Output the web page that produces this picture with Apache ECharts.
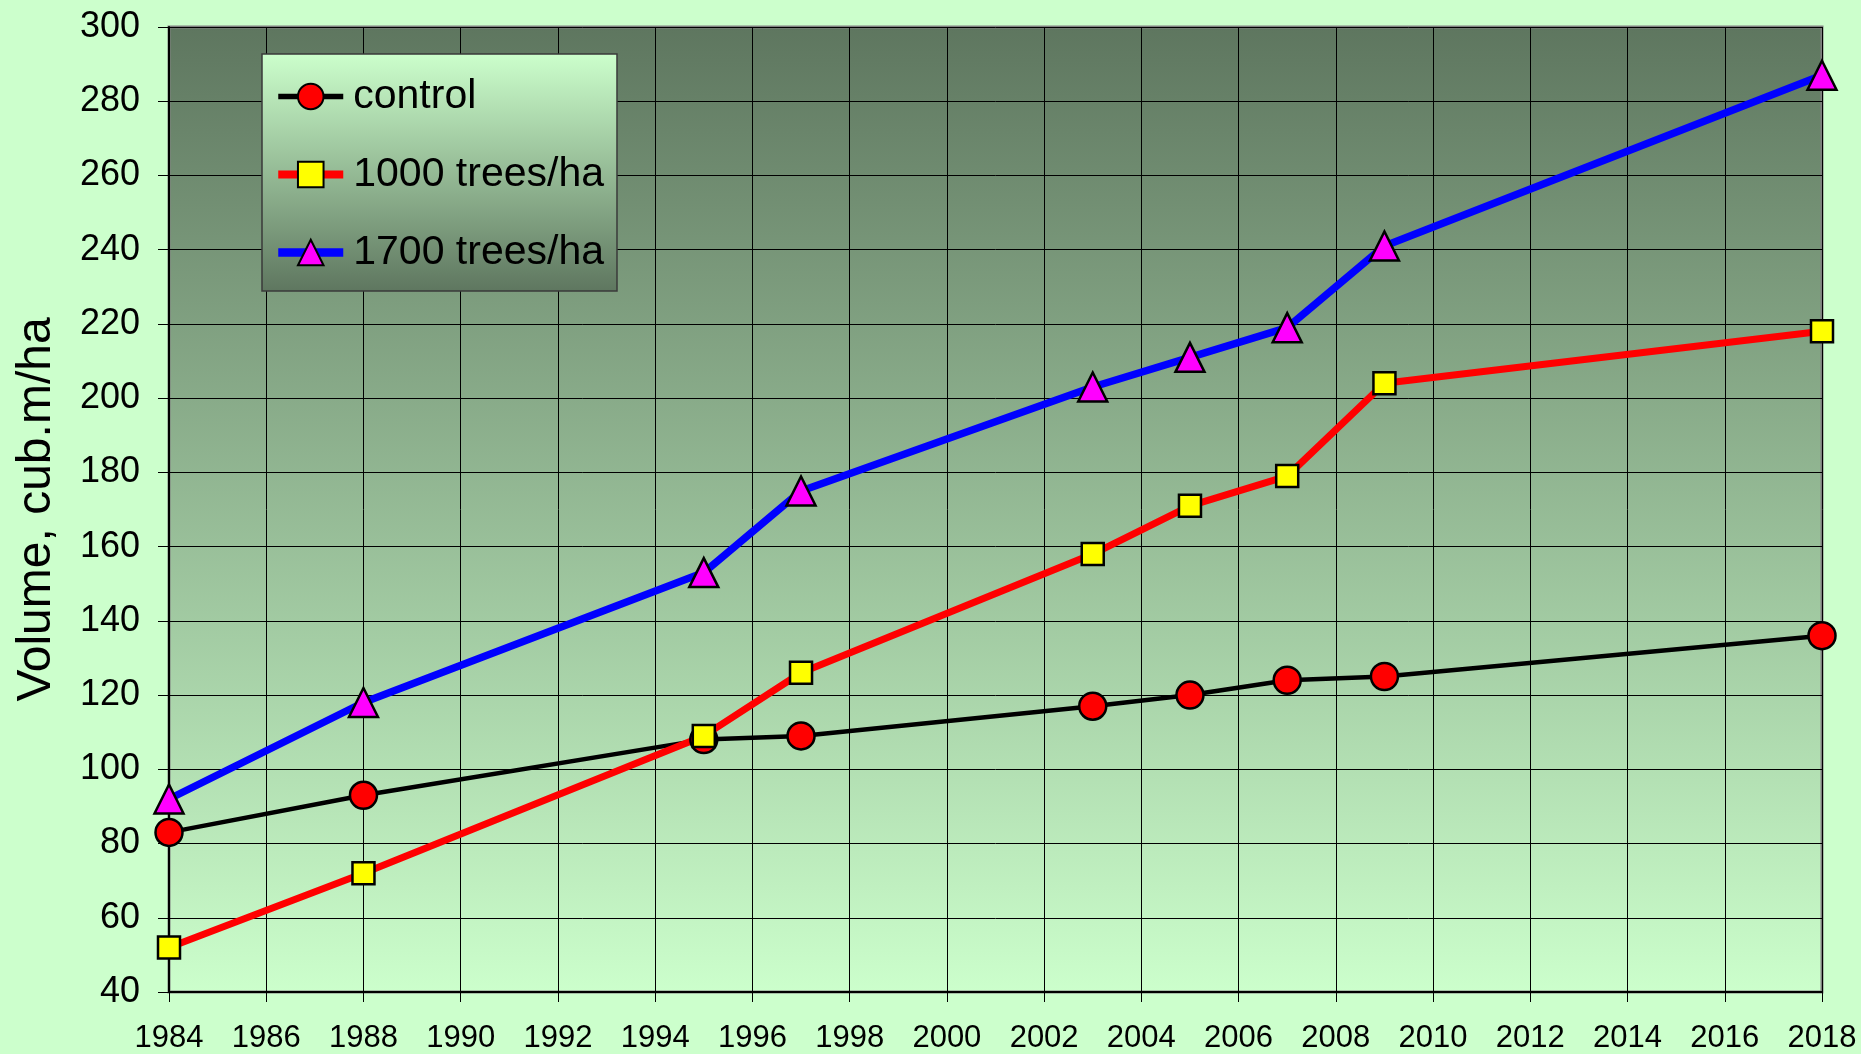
<!DOCTYPE html>
<html>
<head>
<meta charset="utf-8">
<script src="https://cdn.jsdelivr.net/npm/echarts@6/dist/echarts.min.js"></script>
<style>
  html, body { margin: 0; padding: 0; background: #ccffcc; }
  #chart { width: 1861px; height: 1054px; }
</style>
</head>
<body>
<div id="chart"></div>
<script>
const years = [1984, 1988, 1995, 1997, 2003, 2005, 2007, 2009, 2018];
const control = [83, 93, 108, 109, 117, 120, 124, 125, 136];
const trees1000 = [52, 72, 109, 126, 158, 171, 179, 204, 218];
const trees1700 = [92, 118, 153, 175, 203, 211, 219, 241, 287];

const seriesNames = ["control", "1000 trees/ha", "1700 trees/ha"];
const lineColors = ["#000000", "#ff0000", "#0000ff"];
const markerColors = ["#ff0000", "#ffff00", "#ff00ff"];
const markerShapes = ["circle", "rect", "triangle"];
const markerSizes = [27, 22, 29];
const lineWidths = [4.5, 7, 7.5];

const font = "Liberation Sans, Arial, sans-serif";

function pairs(values) {
  return years.map((y, i) => [y, values[i]]);
}

const chart = echarts.init(document.getElementById("chart"));

const series = [control, trees1000, trees1700].map((values, idx) => ({
  name: seriesNames[idx],
  type: "line",
  data: pairs(values),
  symbol: markerShapes[idx],
  symbolSize: markerSizes[idx],
  lineStyle: { color: lineColors[idx], width: lineWidths[idx] },
  itemStyle: { color: markerColors[idx], borderColor: "#000", borderWidth: 2.5 },
  emphasis: { disabled: true },
  animation: false,
}));

chart.setOption({
  backgroundColor: "#ccffcc",
  textStyle: { fontFamily: font },
  grid: {
    left: 169,
    right: 39,
    top: 27,
    bottom: 62,
    show: true,
    borderColor: "#808080",
    borderWidth: 3,
    backgroundColor: new echarts.graphic.LinearGradient(0, 0, 0, 1, [
      { offset: 0, color: "#5e765f" },
      { offset: 1, color: "#ccffcc" },
    ]),
  },
  legend: {
    orient: "vertical",
    left: 262,
    top: 54,
    padding: [22, 13, 18, 12],
    itemWidth: 65,
    itemHeight: 32,
    itemGap: 37,
    backgroundColor: new echarts.graphic.LinearGradient(0, 0, 0, 1, [
      { offset: 0, color: "#ccffcc" },
      { offset: 1, color: "#5e765f" },
    ]),
    borderColor: "#3a3a3a",
    borderWidth: 1.5,
    textStyle: { fontSize: 41, color: "#000", fontFamily: font, padding: [0, 0, 0, 5] },
    data: seriesNames.map((name, idx) => ({
      name,
      lineStyle: { width: lineWidths[idx] + 1, color: lineColors[idx] },
    })),
  },
  xAxis: {
    type: "value",
    min: 1984,
    max: 2018,
    interval: 2,
    axisLine: { lineStyle: { color: "#000", width: 2 } },
    axisTick: { show: true, length: 10, lineStyle: { color: "#000", width: 1 } },
    axisLabel: {
      fontSize: 31,
      color: "#000",
      margin: 31,
      fontFamily: font,
      formatter: (value) => String(value),
    },
    splitLine: { show: true, lineStyle: { color: "#000", width: 1 } },
  },
  yAxis: {
    type: "value",
    min: 40,
    max: 300,
    interval: 20,
    name: "Volume, cub.m/ha",
    nameLocation: "middle",
    nameGap: 108,
    nameTextStyle: { fontSize: 48, color: "#000", fontFamily: font },
    axisLine: { show: true, lineStyle: { color: "#000", width: 2 } },
    axisTick: { show: true, length: 11, lineStyle: { color: "#000", width: 1 } },
    axisLabel: { fontSize: 36, color: "#000", margin: 29, fontFamily: font },
    splitLine: { show: true, lineStyle: { color: "#000", width: 1 } },
  },
  series,
});
</script>
</body>
</html>
